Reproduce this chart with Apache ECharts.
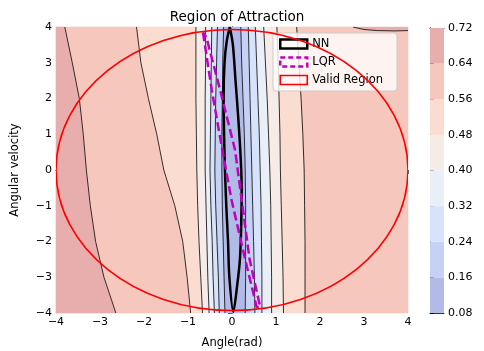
<!DOCTYPE html>
<html>
<head>
<meta charset="utf-8">
<script src="https://cdn.jsdelivr.net/npm/echarts@6/dist/echarts.min.js"></script>
<style>
html, body { margin: 0; padding: 0; background: #fff; }
#chart { width: 484px; height: 351px; }
</style>
</head>
<body>
<div id="chart"></div>
<script>
// contour levels and band colours (coolwarm, faded)
var levels = [0.08, 0.16, 0.24, 0.32, 0.40, 0.48, 0.56, 0.64, 0.72];
var levelColors = ['#b2bbe8', '#c5d2f5', '#d7e3fa', '#e9eef7', '#f5ece7', '#fbdcd0', '#f6c8bd', '#e8adad'];

// contour boundaries: x position at each y
var ys   = [4, 3, 2, 1, 0, -1, -2, -3, -4];
var L064 = [-3.80, -3.63, -3.47, -3.38, -3.31, -3.22, -3.10, -2.91, -2.64];
var L056 = [-2.17, -2.07, -1.90, -1.71, -1.55, -1.30, -1.12, -1.02, -0.94];
var L048 = [-0.82, -0.82, -0.82, -0.81, -0.80, -0.78, -0.75, -0.71, -0.67];
var L040 = [-0.60, -0.60, -0.61, -0.61, -0.61, -0.59, -0.57, -0.55, -0.52];
var L032 = [-0.46, -0.47, -0.48, -0.49, -0.50, -0.48, -0.45, -0.43, -0.40];
var L024 = [-0.33, -0.35, -0.37, -0.38, -0.39, -0.37, -0.34, -0.31, -0.29];
var L016 = [-0.19, -0.21, -0.22, -0.23, -0.23, -0.22, -0.20, -0.18, -0.16];
var R016 = [0.20, 0.22, 0.25, 0.28, 0.30, 0.31, 0.31, 0.31, 0.30];
var R024 = [0.37, 0.39, 0.41, 0.43, 0.45, 0.47, 0.49, 0.51, 0.52];
var R032 = [0.53, 0.56, 0.59, 0.62, 0.64, 0.66, 0.67, 0.68, 0.68];
var R040 = [0.72, 0.76, 0.80, 0.83, 0.86, 0.88, 0.89, 0.90, 0.90];
var R048 = [1.02, 1.05, 1.07, 1.09, 1.10, 1.12, 1.14, 1.16, 1.17];
var R056 = [1.47, 1.52, 1.57, 1.61, 1.64, 1.65, 1.66, 1.66, 1.66];
// small 0.64 contour in the top right corner
var corner064 = [[2.75, 4], [3.0, 3.93], [3.3, 3.9], [3.7, 3.89], [4, 3.9]];

// NN and LQR region outlines
var nnLine = [[-0.05, 4], [-0.12, 3.6], [-0.17, 3], [-0.19, 2], [-0.18, 1], [-0.16, 0], [-0.13, -1], [-0.09, -2], [-0.06, -3], [0.03, -3.97],
  [0.12, -3.2], [0.18, -2.5], [0.21, -1.5], [0.22, -0.5], [0.19, 0.5], [0.14, 1.5], [0.08, 2.5], [0.02, 3.5], [-0.05, 4]];
var lqrLine = [[-0.66, 3.85], [-0.46, 2.24], [-0.24, 0.7], [-0.01, -0.84], [0.30, -2.5], [0.56, -3.83],
  [0.64, -3.83], [0.40, -2.5], [0.22, -0.84], [0.07, 0.56], [-0.27, 2.24], [-0.58, 3.7], [-0.66, 3.85]];

// valid region ellipse: centre and radii
var validCenter = [0, 0];
var validRadii = [4, 3.93];

var xTicks = [-4, 4, 1];

// bands: [left boundary, right boundary, colour index]; null = plot edge
var bands = [
	[null, L064, 7], [L064, L056, 6], [L056, L048, 5], [L048, L040, 4], [L040, L032, 3],
	[L032, L024, 2], [L024, L016, 1], [L016, R016, 0], [R016, R024, 1], [R024, R032, 2],
	[R032, R040, 3], [R040, R048, 4], [R048, R056, 5], [R056, null, 6]
];
var contours = [L064, L056, L048, L040, L032, L024, L016, R016, R024, R032, R040, R048, R056];

var minus = function (v) { return String(v).replace('-', '\u2212'); };
var font = 'DejaVu Sans';

function bandItem(params, api) {
	var b = bands[params.dataIndex];
	var pts = [], i;
	for (i = 0; i < ys.length; i++) pts.push(api.coord([b[0] ? b[0][i] : xTicks[0], ys[i]]));
	for (i = ys.length - 1; i >= 0; i--) pts.push(api.coord([b[1] ? b[1][i] : xTicks[1], ys[i]]));
	var c = levelColors[b[2]];
	return { type: 'polygon', shape: { points: pts }, style: { fill: c, stroke: c, lineWidth: 0.6 } };
}

var series = [{
	type: 'custom', silent: true, xAxisIndex: 0, yAxisIndex: 0, z: 1,
	data: bands.map(function (b, i) { return [0, 0, i]; }),
	renderItem: bandItem
}, {
	type: 'custom', silent: true, xAxisIndex: 0, yAxisIndex: 0, z: 1,
	data: [[0, 0]],
	renderItem: function (params, api) {
		var pts = corner064.map(function (p) { return api.coord(p); });
		pts.push(api.coord([4, 4]));
		return { type: 'polygon', shape: { points: pts }, style: { fill: levelColors[7] } };
	}
}];

contours.concat([corner064]).forEach(function (arr) {
	series.push({
		type: 'line', silent: true, xAxisIndex: 0, yAxisIndex: 0, z: 3,
		symbol: 'none', animation: false,
		data: arr === corner064 ? corner064 : ys.map(function (y, i) { return [arr[i], y]; }),
		lineStyle: { color: '#000', width: 0.8 }
	});
});

series.push({
	name: 'NN', type: 'line', xAxisIndex: 0, yAxisIndex: 0, z: 5, symbol: 'none', smooth: 0.3,
	data: nnLine, lineStyle: { color: '#000', width: 2.5 }
});
series.push({
	name: 'LQR', type: 'line', xAxisIndex: 0, yAxisIndex: 0, z: 5, symbol: 'none',
	data: lqrLine, lineStyle: { color: '#bf00bf', width: 2.5, type: [9, 4] }
});
series.push({
	name: 'Valid Region', type: 'custom', xAxisIndex: 0, yAxisIndex: 0, z: 6, clip: true,
	data: [validCenter],
	itemStyle: { color: 'red' },
	renderItem: function (params, api) {
		var c = api.coord(validCenter);
		var s = api.size([validRadii[0], validRadii[1]]);
		return { type: 'ellipse', shape: { cx: c[0], cy: c[1], rx: s[0], ry: s[1] },
			style: { fill: 'none', stroke: '#ff0000', lineWidth: 1.6 } };
	}
});

// colorbar
series.push({
	type: 'custom', silent: true, xAxisIndex: 2, yAxisIndex: 2,
	data: levelColors.map(function (c, i) { return [0, levels[i], i]; }),
	renderItem: function (params, api) {
		var i = params.dataIndex;
		var p0 = api.coord([0, levels[i + 1]]);
		var p1 = api.coord([1, levels[i]]);
		return { type: 'rect', shape: { x: p0[0], y: p0[1], width: p1[0] - p0[0], height: p1[1] - p0[1] },
			style: { fill: levelColors[i] } };
	}
});

var lineOnly = { show: true, lineStyle: { color: '#000', width: 0.8 } };
var option = {
	animation: false,
	title: {
		text: 'Region of Attraction', left: 232, top: 5, textAlign: 'center',
		textStyle: { fontFamily: font, fontSize: 13.5, fontWeight: 'normal', color: '#000' }
	},
	legend: {
		orient: 'vertical', left: 273, top: 33, padding: [5, 14, 5, 6],
		itemWidth: 27, itemHeight: 9, itemGap: 6,
		backgroundColor: 'rgba(255,255,255,0.8)', borderColor: '#ccc', borderWidth: 1, borderRadius: 3,
		textStyle: { fontFamily: font, fontSize: 11.5, color: '#000' },
		data: [
			{ name: 'NN', icon: 'rect', itemStyle: { color: 'rgba(0,0,0,0)', borderColor: '#000', borderWidth: 2.5 } },
			{ name: 'LQR', icon: 'rect', itemStyle: { color: 'rgba(0,0,0,0)', borderColor: '#bf00bf', borderWidth: 2.5, borderType: [5, 3] } },
			{ name: 'Valid Region', icon: 'rect', itemStyle: { color: 'rgba(0,0,0,0)', borderColor: '#ff0000', borderWidth: 1.6 } }
		]
	},
	grid: [
		{ left: 56, right: 76, top: 27, bottom: 38, outerBoundsMode: 'none', containLabel: false },
		{ left: 430, width: 14, top: 28, bottom: 38, outerBoundsMode: 'none', containLabel: false }
	],
	xAxis: [{
		gridIndex: 0, type: 'value', min: xTicks[0], max: xTicks[1], interval: xTicks[2], position: 'bottom',
		name: 'Angle(rad)', nameLocation: 'middle', nameGap: 24,
		nameTextStyle: { fontFamily: font, fontSize: 11.5, color: '#000' },
		axisLine: lineOnly, axisTick: { show: true, length: 4, lineStyle: { color: '#000', width: 0.8 } },
		axisLabel: { formatter: minus, fontFamily: font, fontSize: 11, color: '#000', margin: 4 },
		splitLine: { show: false }
	}, {
		gridIndex: 0, type: 'value', min: xTicks[0], max: xTicks[1], position: 'top',
		axisLine: lineOnly, axisTick: { show: false }, axisLabel: { show: false }, splitLine: { show: false }
	}, {
		gridIndex: 1, type: 'value', min: 0, max: 1, position: 'bottom',
		axisLine: lineOnly, axisTick: { show: false }, axisLabel: { show: false }, splitLine: { show: false }
	}, {
		gridIndex: 1, type: 'value', min: 0, max: 1, position: 'top',
		axisLine: lineOnly, axisTick: { show: false }, axisLabel: { show: false }, splitLine: { show: false }
	}],
	yAxis: [{
		gridIndex: 0, type: 'value', min: xTicks[0], max: xTicks[1], interval: xTicks[2], position: 'left',
		name: 'Angular velocity', nameLocation: 'middle', nameGap: 35,
		nameTextStyle: { fontFamily: font, fontSize: 11.5, color: '#000' },
		axisLine: lineOnly, axisTick: { show: true, length: 4, lineStyle: { color: '#000', width: 0.8 } },
		axisLabel: { formatter: minus, fontFamily: font, fontSize: 11, color: '#000', margin: 4 },
		splitLine: { show: false }
	}, {
		gridIndex: 0, type: 'value', min: xTicks[0], max: xTicks[1], position: 'right',
		axisLine: lineOnly, axisTick: { show: false }, axisLabel: { show: false }, splitLine: { show: false }
	}, {
		gridIndex: 1, type: 'value', min: levels[0], max: levels[levels.length - 1], interval: 0.08, position: 'right',
		axisLine: lineOnly, axisTick: { show: true, length: 4, lineStyle: { color: '#000', width: 0.8 } },
		axisLabel: { formatter: function (v) { return v.toFixed(2); }, fontFamily: font, fontSize: 11, color: '#000', margin: 4 },
		splitLine: { show: false }
	}, {
		gridIndex: 1, type: 'value', min: levels[0], max: levels[levels.length - 1], position: 'left',
		axisLine: lineOnly, axisTick: { show: false }, axisLabel: { show: false }, splitLine: { show: false }
	}],
	series: series
};

var myChart = echarts.init(document.getElementById('chart'));
myChart.setOption(option);
</script>
</body>
</html>
